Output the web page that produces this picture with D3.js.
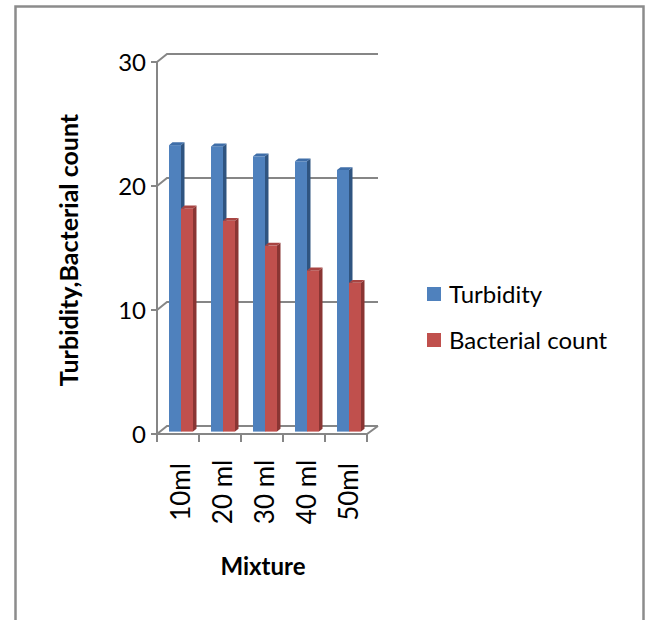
<!DOCTYPE html>
<html>
<head>
<meta charset="utf-8">
<script src="https://cdn.jsdelivr.net/npm/d3@7"></script>
<style>
  body { margin: 0; background: #fff; }
  text { font-family: Lato, "Open Sans", sans-serif; fill: #000; }
</style>
</head>
<body>
<div id="chart"></div>
<script>
var categories = ["10ml", "20 ml", "30 ml", "40 ml", "50ml"];
var seriesNames = ["Turbidity", "Bacterial count"];
var turbidity = [23.1, 23, 22.2, 21.8, 21.1];
var bacterial = [18, 17, 15, 13, 12];
var yTicks = [0, 10, 20, 30];

var colors = {
    "Turbidity": {front: "#4f81bd", side: "#2f5480", top: "#3f6ea8"},
    "Bacterial count": {front: "#c0504d", side: "#8a3533", top: "#a84442"}
};

var width = 650, height = 620;
// 3d offset of the back wall relative to the front plane
var depthX = 10, depthY = -8;
// bars sit between these depth fractions
var barZ0 = 0.3, barZ1 = 0.65;

var svg = d3.select("#chart").append("svg")
    .attr("width", width)
    .attr("height", height);

// chart border
svg.append("rect")
    .attr("x", 15.5).attr("y", 6.5)
    .attr("width", 628).attr("height", 660)
    .attr("fill", "#fff")
    .attr("stroke", "#8c8c8c")
    .attr("stroke-width", 2.5);

var x = d3.scaleBand()
    .domain(categories)
    .range([157, 367])
    .paddingInner(0);

var xs = d3.scaleBand()
    .domain(seriesNames)
    .range([0, x.bandwidth()])
    .paddingInner(0)
    .paddingOuter(0.75);

var y = d3.scaleLinear().domain([0, 30]).range([434, 62]);

var gridColor = "#868686";
var grid = svg.append("g").attr("stroke", gridColor).attr("stroke-width", 2).attr("fill", "none");

// gridlines: side wall diagonal + back wall horizontal
yTicks.forEach(function (t) {
    var yf = y(t);
    grid.append("path")
        .attr("d", "M" + x.range()[0] + "," + yf +
            "L" + (x.range()[0] + depthX) + "," + (yf + depthY) +
            "L" + (x.range()[1] + depthX + 1) + "," + (yf + depthY));
    // tick
    grid.append("line")
        .attr("x1", x.range()[0] - 6).attr("x2", x.range()[0])
        .attr("y1", yf).attr("y2", yf);
});

// vertical axis line
grid.append("line")
    .attr("x1", x.range()[0]).attr("x2", x.range()[0])
    .attr("y1", y(30)).attr("y2", y(0));

// floor front edge and right diagonal
grid.append("path")
    .attr("d", "M" + x.range()[0] + "," + y(0) +
        "L" + x.range()[1] + "," + y(0) +
        "L" + (x.range()[1] + depthX + 1) + "," + (y(0) + depthY));

// category ticks
var catEdges = categories.map(function (c) { return x(c); }).concat([x.range()[1]]);
catEdges.forEach(function (e) {
    grid.append("line")
        .attr("x1", e).attr("x2", e)
        .attr("y1", y(0)).attr("y2", y(0) + 8);
});

// bars
var data = categories.map(function (c, i) {
    return {cat: c, values: [
        {name: seriesNames[0], value: turbidity[i]},
        {name: seriesNames[1], value: bacterial[i]}
    ]};
});

var bw = xs.bandwidth();
var ox = depthX * barZ0, oy = depthY * barZ0;
var dx = depthX * (barZ1 - barZ0), dy = depthY * (barZ1 - barZ0);

var catG = svg.selectAll(".cat")
    .data(data)
    .enter().append("g")
    .attr("class", "cat");

catG.each(function (d) {
    var g = d3.select(this);
    d.values.forEach(function (v) {
        var x0 = x(d.cat) + xs(v.name) + ox;
        var x1 = x0 + bw;
        var yb = y(0) + oy;
        var yt = y(v.value) + oy;
        var c = colors[v.name];
        // side face
        g.append("path")
            .attr("d", "M" + x1 + "," + yt + "L" + (x1 + dx) + "," + (yt + dy) +
                "L" + (x1 + dx) + "," + (yb + dy) + "L" + x1 + "," + yb + "Z")
            .attr("fill", c.side);
        // front face
        g.append("rect")
            .attr("x", x0).attr("y", yt)
            .attr("width", bw).attr("height", yb - yt)
            .attr("fill", c.front);
        // top face
        g.append("path")
            .attr("d", "M" + x0 + "," + yt + "L" + x1 + "," + yt +
                "L" + (x1 + dx) + "," + (yt + dy) + "L" + (x0 + dx) + "," + (yt + dy) + "Z")
            .attr("fill", c.top);
    });
});

// y tick labels
svg.selectAll(".ylab")
    .data(yTicks)
    .enter().append("text")
    .attr("class", "ylab")
    .attr("x", 146)
    .attr("y", function (d) { return y(d); })
    .attr("dy", "0.36em")
    .attr("text-anchor", "end")
    .style("font-size", "24px")
    .text(function (d) { return d; });

// category labels (rotated)
svg.selectAll(".xlab")
    .data(categories)
    .enter().append("text")
    .attr("class", "xlab")
    .attr("transform", function (d) {
        return "translate(" + (x(d) + x.bandwidth() / 2 + 3) + ",492) rotate(-90)";
    })
    .attr("dy", "0.36em")
    .attr("text-anchor", "middle")
    .style("font-size", "26px")
    .text(function (d) { return d; });

// axis titles
svg.append("text")
    .attr("transform", "translate(69,250) rotate(-90)")
    .attr("dy", "0.36em")
    .attr("text-anchor", "middle")
    .style("font-size", "25px")
    .style("font-weight", "bold")
    .text("Turbidity,Bacterial count");

svg.append("text")
    .attr("x", 263).attr("y", 566)
    .attr("dy", "0.36em")
    .attr("text-anchor", "middle")
    .style("font-size", "24px")
    .style("font-weight", "bold")
    .text("Mixture");

// legend
var legend = svg.selectAll(".legend")
    .data(seriesNames)
    .enter().append("g")
    .attr("class", "legend")
    .attr("transform", function (d, i) { return "translate(427," + (287 + i * 46) + ")"; });

legend.append("rect")
    .attr("width", 14).attr("height", 14)
    .attr("fill", function (d) { return colors[d].front; });

legend.append("text")
    .attr("x", 22).attr("y", 7)
    .attr("dy", "0.36em")
    .style("font-size", "24px")
    .text(function (d) { return d; });
</script>
</body>
</html>
